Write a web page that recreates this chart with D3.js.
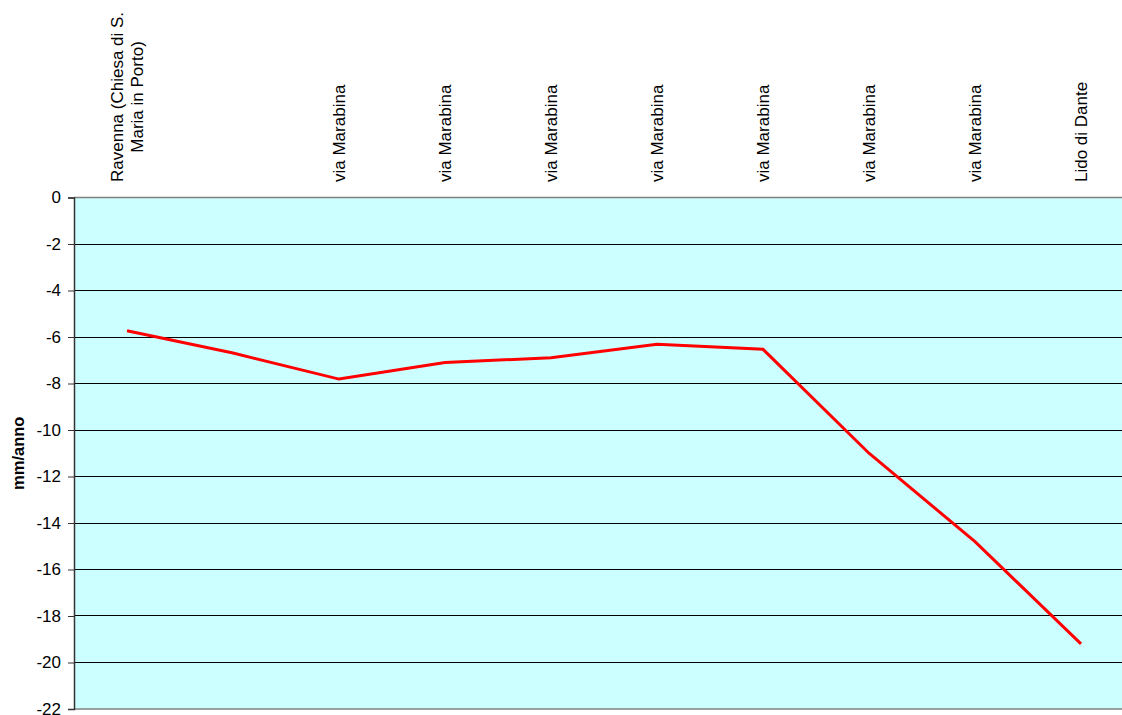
<!DOCTYPE html>
<html>
<head>
<meta charset="utf-8">
<script src="https://cdn.jsdelivr.net/npm/d3@7"></script>
<style>
  body { margin: 0; background: #fff; }
  svg { display: block; font-family: Arial, "Liberation Sans", sans-serif; }
</style>
</head>
<body>
<svg id="chart" width="1122" height="715"></svg>
<script>
// stations along the profile (second one has no label)
var categories = ["Ravenna (Chiesa di S.\nMaria in Porto)", "", "via Marabina", "via Marabina",
                  "via Marabina", "via Marabina", "via Marabina", "via Marabina", "via Marabina", "Lido di Dante"];
// velocity, mm/anno
var values = [-5.73, -6.69, -7.81, -7.1, -6.89, -6.31, -6.53, -11.0, -14.8, -19.2];
var yTicks = [0, -2, -4, -6, -8, -10, -12, -14, -16, -18, -20, -22];

var svg = d3.select("#chart"),
    margin = {top: 197.5, left: 74},
    plotW = 1060,
    plotH = 511.5;

var g = svg.append("g").attr("transform", "translate(" + margin.left + "," + margin.top + ")");

var x = d3.scaleBand()
    .domain(d3.range(categories.length))
    .range([0, plotW]);

var y = d3.scaleLinear()
    .domain([0, -22])
    .range([0, plotH]);

// plot background
g.append("rect")
    .attr("x", 0).attr("y", 0)
    .attr("width", plotW).attr("height", plotH)
    .attr("fill", "#ccffff");

// gridlines (translate already has the half pixel)
g.selectAll(".grid")
  .data(yTicks.slice(1, -1))
  .enter().append("line")
    .attr("x1", 0).attr("x2", plotW)
    .attr("y1", function(d) { return Math.round(y(d)); })
    .attr("y2", function(d) { return Math.round(y(d)); })
    .attr("stroke", "#000")
    .attr("stroke-width", 1);

// top / bottom border
g.selectAll(".border")
  .data([0, -22])
  .enter().append("line")
    .attr("x1", 0).attr("x2", plotW)
    .attr("y1", function(d) { return y(d); })
    .attr("y2", function(d) { return y(d); })
    .attr("stroke", "#808080")
    .attr("stroke-width", 1.5);

// y axis
var yAxis = g.append("g")
    .call(d3.axisLeft(y).tickValues(yTicks).tickSize(6).tickPadding(7)
      .tickFormat(function(d) { return String(d); }));
yAxis.select(".domain").attr("stroke", "#333").attr("stroke-width", 1.5);
yAxis.selectAll(".tick line").attr("stroke", "#333");
yAxis.selectAll("text")
    .attr("font-size", 17)
    .attr("font-family", "Arial, 'Liberation Sans', sans-serif")
    .attr("fill", "#000");

// axis title
svg.append("text")
    .attr("transform", "translate(24," + (margin.top + plotH / 2) + ") rotate(-90)")
    .attr("text-anchor", "middle")
    .attr("font-size", 16.5)
    .attr("font-weight", "bold")
    .text("mm/anno");

// category labels, rotated, above the plot
var labels = svg.selectAll(".cat")
  .data(categories)
  .enter().append("text")
    .attr("class", "cat")
    .attr("font-size", 17)
    .attr("text-anchor", "middle");

labels.each(function(d, i) {
  var t = d3.select(this),
      lines = d.split("\n"),
      cx = margin.left + x(i) + x.bandwidth() / 2,
      lh = 20;
  lines.forEach(function(s, k) {
    t.append("tspan")
      .attr("x", 0)
      .attr("y", (k - (lines.length - 1) / 2) * lh)
      .attr("dy", "0.35em")
      .text(s);
  });
  var w = d3.max(t.selectAll("tspan").nodes(), function(n) { return n.getComputedTextLength(); }) || 0;
  t.attr("transform", "translate(" + cx + "," + (182 - w / 2) + ") rotate(-90)");
});

// the profile line
var line = d3.line()
    .x(function(d, i) { return x(i) + x.bandwidth() / 2; })
    .y(function(d) { return y(d); });

g.append("path")
    .datum(values)
    .attr("fill", "none")
    .attr("stroke", "#ff0000")
    .attr("stroke-width", 3)
    .attr("d", line);
</script>
</body>
</html>
